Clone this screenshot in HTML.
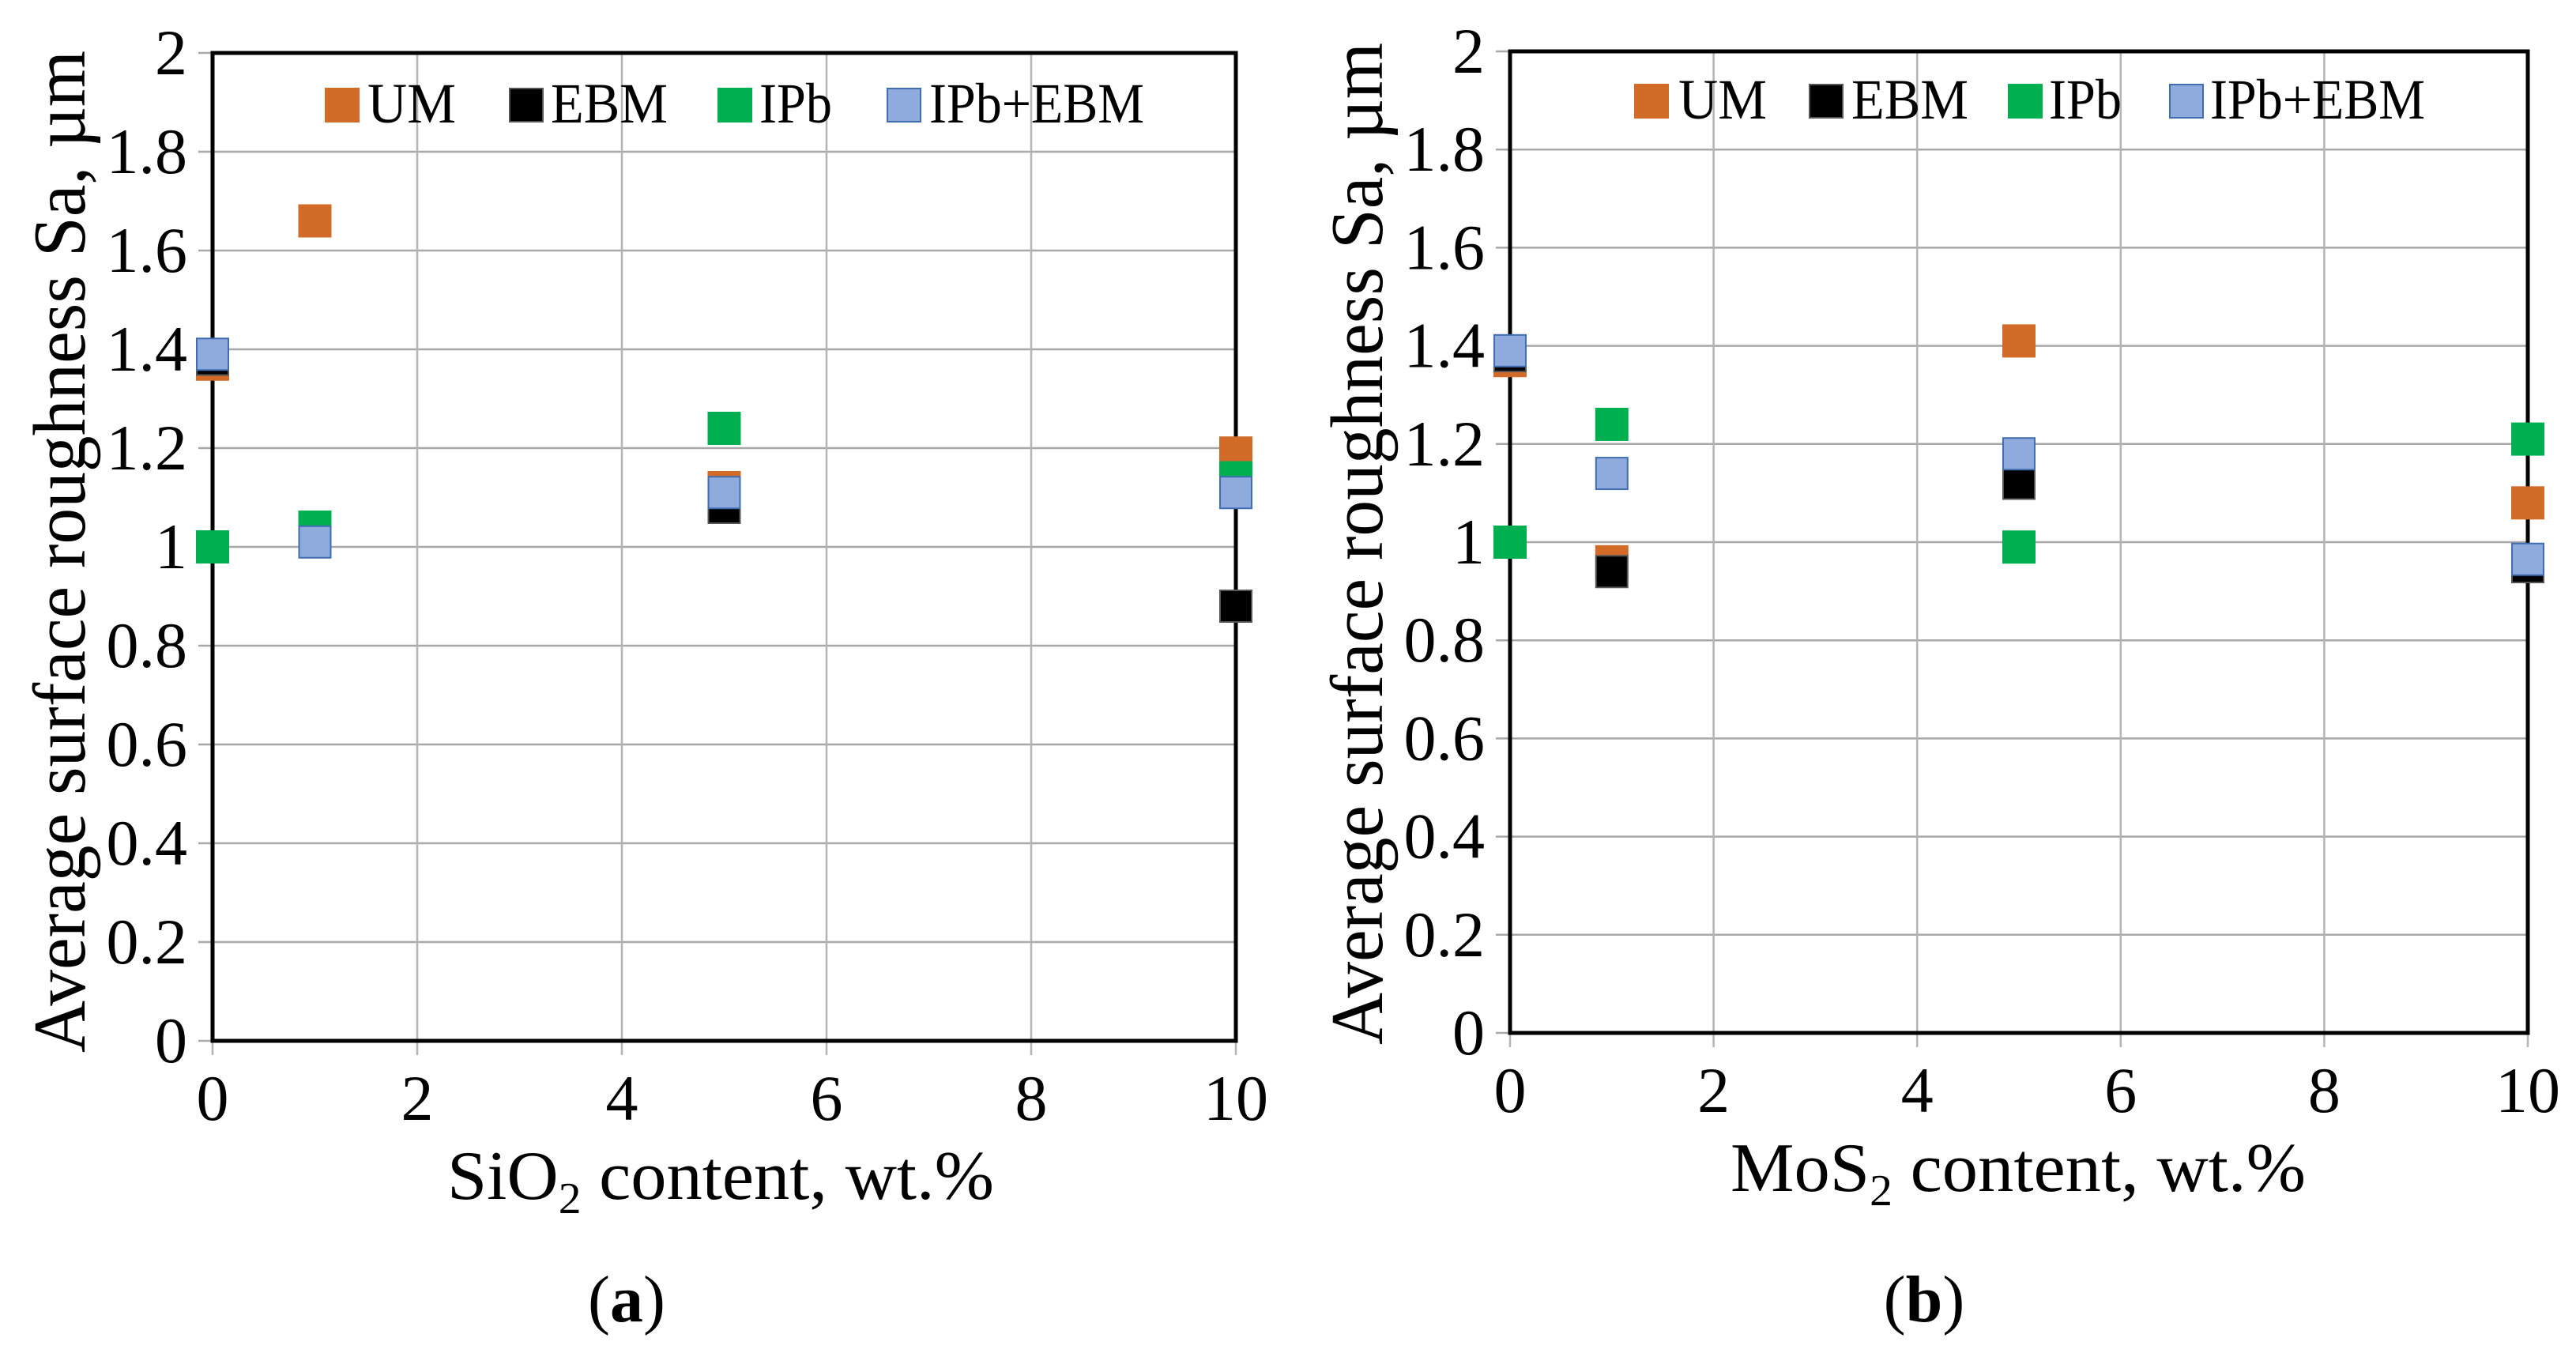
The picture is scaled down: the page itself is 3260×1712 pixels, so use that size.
<!DOCTYPE html>
<html><head><meta charset="utf-8">
<style>
html,body{margin:0;padding:0;background:#fff;}
svg{display:block;font-family:"Liberation Serif","DejaVu Serif","Times New Roman",serif;}
svg text{font-family:"Liberation Serif","DejaVu Serif","Times New Roman",serif;fill:#000;}
</style></head>
<body>
<svg id="fig" width="3260" height="1712" viewBox="0 0 3260 1712" xmlns="http://www.w3.org/2000/svg" font-family="Liberation Serif, DejaVu Serif, serif"></svg>
<script>
const xValues = [0, 1, 5, 10];
const seriesNames = ["UM", "EBM", "IPb", "IPb+EBM"];
const seriesFill = ["#d26b28", "#000000", "#00b050", "#8faadc"];
const seriesStroke = ["#d26b28", "#555555", "#00b050", "#3f6db0"];
const xTicks = [0, 2, 4, 6, 8, 10];
const yTicks = [0, 0.2, 0.4, 0.6, 0.8, 1, 1.2, 1.4, 1.6, 1.8, 2];
const yTickLabels = ["0", "0.2", "0.4", "0.6", "0.8", "1", "1.2", "1.4", "1.6", "1.8", "2"];
// Chart (a) SiO2
const aUM = [1.37, 1.66, 1.12, 1.19];
const aEBM = [1.38, 1.02, 1.08, 0.88];
const aIPb = [1.00, 1.04, 1.24, 1.14];
const aIPbEBM = [1.39, 1.01, 1.11, 1.11];
// Chart (b) MoS2
const bUM = [1.37, 0.96, 1.41, 1.08];
const bEBM = [1.38, 0.94, 1.12, 0.95];
const bIPb = [1.00, 1.24, 0.99, 1.21];
const bIPbEBM = [1.39, 1.14, 1.18, 0.965];

const NS = "http://www.w3.org/2000/svg";
const FONT = '"Liberation Serif", "DejaVu Serif", serif';
const svg = document.getElementById("fig");
function mk(tag, attrs, parent, txt){
  const e = document.createElementNS(NS, tag);
  for (const k in attrs) e.setAttribute(k, attrs[k]);
  if (tag === "text") e.setAttribute("font-family", FONT);
  if (txt !== undefined) e.textContent = txt;
  (parent || svg).appendChild(e);
  return e;
}

function drawChart(cfg){
  const g = mk("g", {});
  
  
  const L = cfg.left, R = cfg.right, T = cfg.top, B = cfg.bottom;
  const xs = v => L + (v - 0) / 10 * (R - L);
  const ys = v => B - (v - 0) / 2 * (B - T);
  yTicks.forEach((v, i) => {
    const y = ys(v);
    const gl = mk("line", {x1: L - 18, x2: R, y1: y, y2: y, stroke: "#a8a8a8", "stroke-width": 2.5}, g);
    
    
    const t = mk("text", {x: L - 32, y: y + 27, "font-size": 82, "text-anchor": "end"}, g, yTickLabels[i]);
    
    
  });
  xTicks.forEach(v => {
    const x = xs(v);
    const gl = mk("line", {x1: x, x2: x, y1: T, y2: B + 18, stroke: "#b4b4b4", "stroke-width": 2.5}, g);
    
    
    const t = mk("text", {x: x, y: B + 100, "font-size": 82, "text-anchor": "middle"}, g, String(v));
    
    
  });
  const fr = mk("rect", {x: L, y: T, width: R - L, height: B - T, fill: "none", stroke: "#000", "stroke-width": 5}, g);
  
  
  cfg.series.forEach((vals, si) => {
    const sg = mk("g", {}, g);
    
    
    vals.forEach((v, i) => {
      const cx = xs(xValues[i]), cy = ys(v);
      const r = mk("rect", {x: cx - 20, y: cy - 20, width: 40, height: 40, fill: seriesFill[si], stroke: seriesStroke[si], "stroke-width": 2}, sg);
      
      
    });
  });
  const lg = mk("g", {}, g);
  
  
  cfg.legend.forEach((lx, si) => {
    const m = mk("rect", {x: lx[0], y: cfg.legY - 21, width: 42, height: 42, fill: seriesFill[si], stroke: seriesStroke[si], "stroke-width": 2}, lg);
    
    
    const t = mk("text", {x: lx[1], y: cfg.legY + 22, "font-size": 72, textLength: lx[2], lengthAdjust: "spacingAndGlyphs"}, lg, seriesNames[si]);
    
    
  });
  const yt = mk("text", {transform: "translate(" + cfg.yTitleX + "," + cfg.yTitleBottom + ") rotate(-90)", "font-size": 94, textLength: 1268, lengthAdjust: "spacingAndGlyphs"}, g, "Average surface roughness Sa, µm");
  
  
  const xt = mk("text", {x: cfg.xTitleX, y: B + 200, "font-size": 88, textLength: cfg.xTitleW, lengthAdjust: "spacingAndGlyphs"}, g);
  
  
  mk("tspan", {}, xt, cfg.xChem);
  mk("tspan", {"font-size": 56, dy: 18}, xt, "2");
  mk("tspan", {dy: -18}, xt, " content, wt.%");
  const cap = mk("text", {x: cfg.capX, y: 1672, "font-size": 84, "text-anchor": "middle"}, g);
  
  
  mk("tspan", {}, cap, "(");
  mk("tspan", {"font-weight": "bold"}, cap, cfg.capL);
  mk("tspan", {}, cap, ")");
}

drawChart({name: "chart-a", left: 269, right: 1564, top: 67, bottom: 1317,
  series: [aUM, aEBM, aIPb, aIPbEBM], legY: 133,
  legend: [[412, 465, 112], [645, 697, 148], [909, 961, 92], [1123, 1176, 272]],
  yTitleX: 107, yTitleBottom: 1332, xTitleX: 566, xTitleW: 692, xChem: "SiO", capX: 793, capL: "a"});
drawChart({name: "chart-b", left: 1911, right: 3199, top: 65, bottom: 1307,
  series: [bUM, bEBM, bIPb, bIPbEBM], legY: 128,
  legend: [[2069, 2124, 112], [2290, 2343, 148], [2542, 2593, 92], [2746, 2797, 272]],
  yTitleX: 1749, yTitleBottom: 1322, xTitleX: 2190, xTitleW: 728, xChem: "MoS", capX: 2435, capL: "b"});
</script>
</body></html>
